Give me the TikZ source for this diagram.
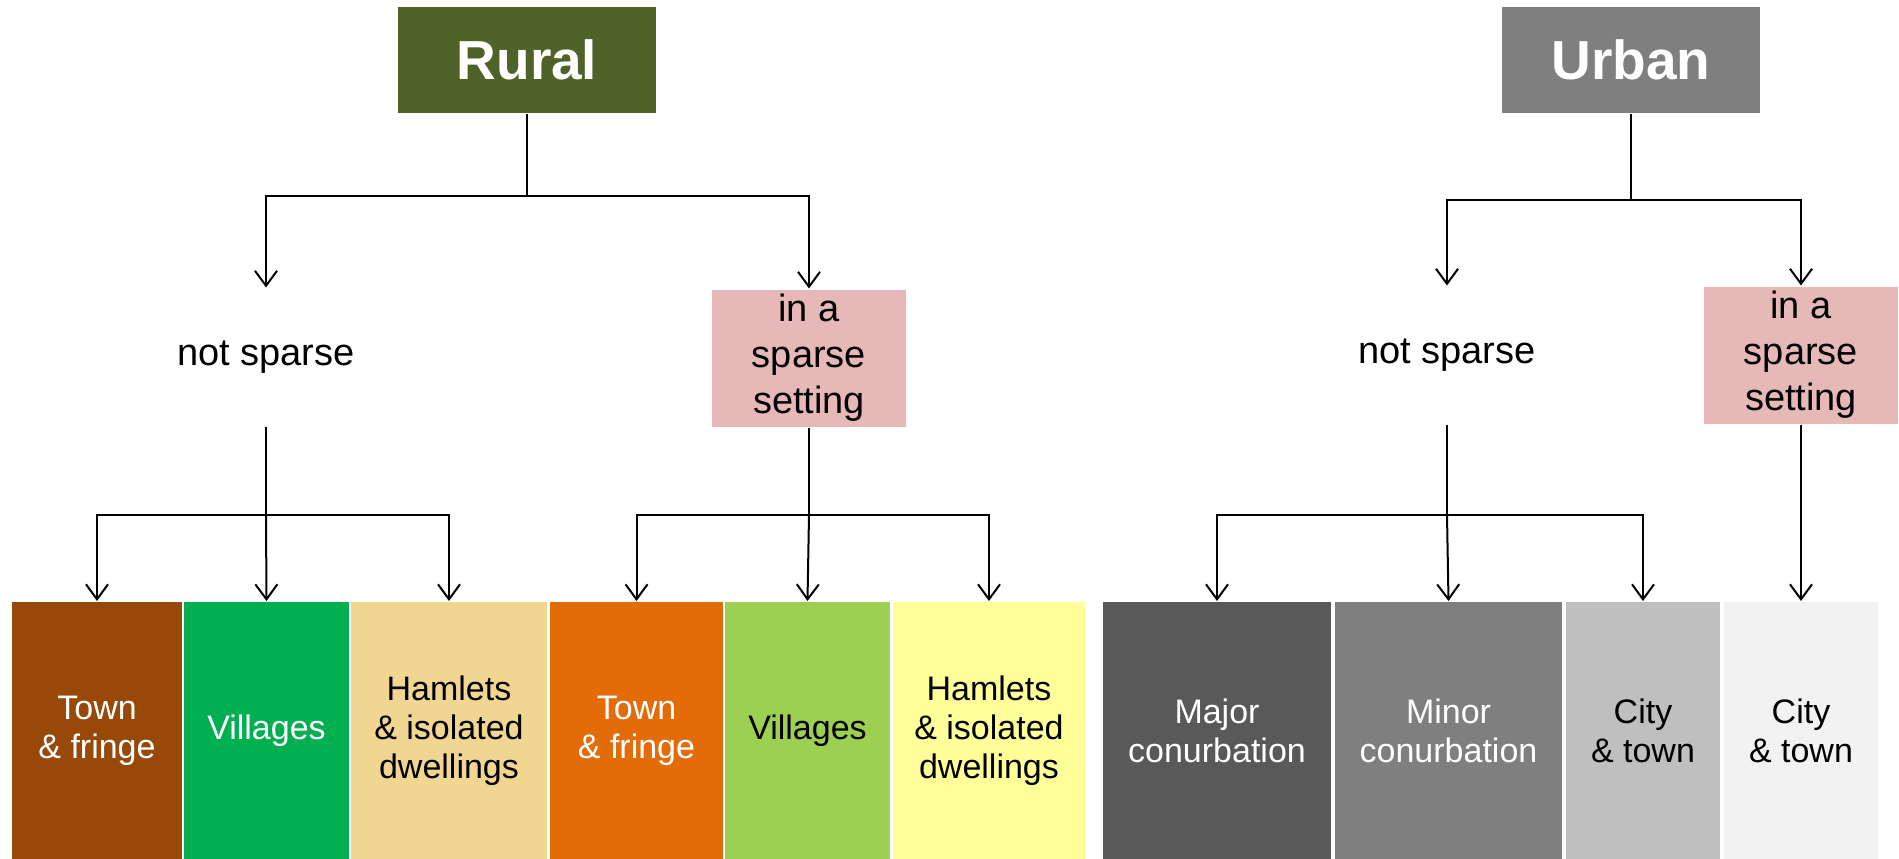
\documentclass[tikz,border=0pt]{standalone}
\usepackage{fontspec}
\setmainfont{Liberation Sans}
\usetikzlibrary{arrows.meta}
\definecolor{ruralgreen}{HTML}{4F6228}
\definecolor{urbangrey}{HTML}{7F7F7F}
\definecolor{sparsepink}{HTML}{E6B9B8}
\definecolor{townbrown}{HTML}{984807}
\definecolor{villgreen}{HTML}{00B050}
\definecolor{hamlettan}{HTML}{F1D692}
\definecolor{townorange}{HTML}{E36C09}
\definecolor{villlight}{HTML}{9DD052}
\definecolor{hamletyellow}{HTML}{FFFF99}
\definecolor{majorgrey}{HTML}{595959}
\definecolor{minorgrey}{HTML}{7F7F7F}
\definecolor{citygrey}{HTML}{BFBFBF}
\definecolor{citylight}{HTML}{F2F2F2}
\begin{document}
\begin{tikzpicture}[x=1pt,y=-1pt,line width=2pt]
\tikzstyle{every node}+=[inner sep=0pt]
\tikzstyle{head}=[text=white, font=\fontsize{55}{60}\selectfont\bfseries, minimum width=258, minimum height=105]
\tikzstyle{split}=[align=center, font=\fontsize{38}{46}\selectfont, minimum width=194, minimum height=137]
\tikzstyle{leaf}=[align=center, font=\fontsize{34}{39}\selectfont, minimum height=257]
\tikzstyle{arr}=[-{Straight Barb[length=15pt,width=22pt]}]
\useasboundingbox (0,0) rectangle (1899,859);

% top level
\node[head, fill=ruralgreen] (rural) at (527,60) {Rural};
\node[head, fill=urbangrey] (urban) at (1631,60) {Urban};

% sparse / not sparse
\node[split] (rns) at (266,357) {not sparse};
\node[split, fill=sparsepink] (rpink) at (809,358) {in a\\sparse\\setting};
\node[split] (uns) at (1447,355) {not sparse};
\node[split, fill=sparsepink] (upink) at (1801,355) {in a\\sparse\\setting};

% settlement types
\node[leaf, minimum width=170, fill=townbrown, text=white] (b1) at (97,730.5) {Town\\\& fringe};
\node[leaf, minimum width=165, fill=villgreen, text=white] (b2) at (266.5,730.5) {Villages};
\node[leaf, minimum width=196, fill=hamlettan] (b3) at (449,730.5) {Hamlets\\\& isolated\\dwellings};
\node[leaf, minimum width=173, fill=townorange, text=white] (b4) at (636.5,730.5) {Town\\\& fringe};
\node[leaf, minimum width=165, fill=villlight] (b5) at (807.5,730.5) {Villages};
\node[leaf, minimum width=192, fill=hamletyellow] (b6) at (989,730.5) {Hamlets\\\& isolated\\dwellings};
\node[leaf, minimum width=228, fill=majorgrey, text=white] (b7) at (1217,730.5) {Major\\conurbation};
\node[leaf, minimum width=227, fill=minorgrey, text=white] (b8) at (1448.5,730.5) {Minor\\conurbation};
\node[leaf, minimum width=154, fill=citygrey] (b9) at (1643,730.5) {City\\\& town};
\node[leaf, minimum width=154, fill=citylight] (b10) at (1801,730.5) {City\\\& town};

\coordinate (rtop) at (527,196);
\coordinate (utop) at (1631,200);
\coordinate (rlow) at (266,515);
\coordinate (rlow2) at (809,515);
\coordinate (ulow) at (1447,515);

\draw (rural) -- (rtop);
\draw[arr] (rtop) -| (rns);
\draw[arr] (rtop) -| (rpink);
\draw (urban) -- (utop);
\draw[arr] (utop) -| (uns);
\draw[arr] (utop) -| (upink);

\draw (rns.south) -- (rlow);
\draw[arr] (rlow) -| (b1);
\draw[arr] (rlow) -- (b2.north);
\draw[arr] (rlow) -| (b3);
\draw (rpink.south) -- (rlow2);
\draw[arr] (rlow2) -| (b4);
\draw[arr] (rlow2) -- (b5.north);
\draw[arr] (rlow2) -| (b6);
\draw (uns.south) -- (ulow);
\draw[arr] (ulow) -| (b7);
\draw[arr] (ulow) -- (b8.north);
\draw[arr] (ulow) -| (b9);
\draw[arr] (upink) -- (b10);
\end{tikzpicture}
\end{document}
